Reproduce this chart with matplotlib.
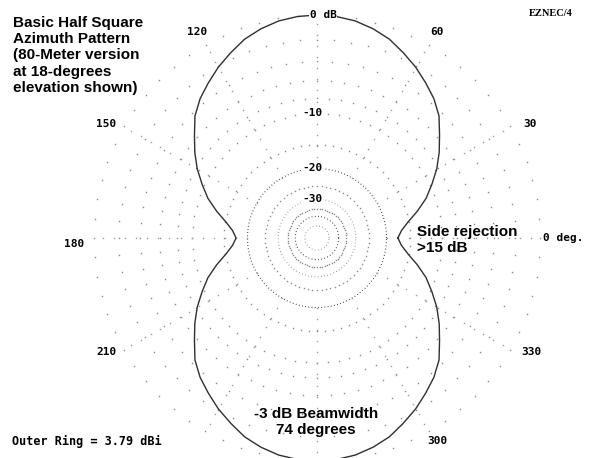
import matplotlib.pyplot as plt
import numpy as np

# azimuth pattern, first quadrant (degrees from "0 deg." towards 90), dB below outer ring
az_q = [0, 5, 10, 15, 20, 25, 30, 35, 40, 45, 50, 55, 60, 65, 70, 75, 80, 85, 90]
gain_q = [-17.4, -16.6, -15.1, -13.1, -11.2, -9.7, -8.2, -6.9, -5.7, -4.4,
          -3.5, -2.8, -2.1, -1.5, -0.9, -0.5, -0.2, -0.05, 0.0]

# grid rings (dB)
rings_sparse = [0, -2, -4, -6, -8, -10, -15, -25, -35]
rings_dense = [(-20, '#202020'), (-30, '#8a8a8a'), (-40, '#202020'), (-50, '#8a8a8a')]
ring_labels = [(0, '0 dB', 6), (-10, '-10', -5), (-20, '-20', -5), (-30, '-30', -5)]

# angle labels: text, angle (deg), radius (outer ring = 1)
ang_labels = [('120', 120.2, 1.07), ('60', 59.8, 1.07), ('150', 151.5, 1.075),
              ('30', 28.2, 1.085), ('180', 181.4, 1.09), ('210', 208.5, 1.075),
              ('330', 332.0, 1.09), ('300', 300.6, 1.06)]


def arrl(db):
    # ARRL log scale: each 2 dB is 0.89 of radius
    return 0.89 ** (-np.asarray(db, dtype=float) / 2)


# full pattern from the symmetric quadrant
az_q = np.array(az_q, dtype=float)
gain_q = np.array(gain_q)
az = np.concatenate([az_q, 180 - az_q[::-1], 180 + az_q, 360 - az_q[::-1]])
gain = np.concatenate([gain_q, gain_q[::-1], gain_q, gain_q[::-1]])

fig = plt.figure(figsize=(5.91, 4.58), dpi=100)
W, H = 591, 458
cx, cy, R = 317, 238, 223
ax = fig.add_axes([(cx - R) / W, (H - cy - R) / H, 2 * R / W, 2 * R / H],
                  projection='polar')
ax.set_ylim(0, 1)
ax.axis('off')

# sparse dotted rings
dots = np.deg2rad(np.arange(0, 360, 5))
for db in rings_sparse:
    ax.plot(dots, np.full(dots.shape, arrl(db)), ls='none', marker='s',
            ms=1.0, mew=0, color='#8a8a8a', clip_on=False)

# dense dotted rings
tt = np.linspace(0, 2 * np.pi, 721)
for db, c in rings_dense:
    ax.plot(tt, np.full(tt.shape, arrl(db)), ls=(0, (0.7, 2.2)), lw=0.8,
            color=c, clip_on=False)

# spokes every 30 degrees
rr = np.arange(arrl(-20), 1.0, 0.05)
for a in range(0, 360, 30):
    ax.plot(np.full(rr.shape, np.deg2rad(a)), rr, ls='none', marker='s',
            ms=1.0, mew=0, color='#9a9a9a', clip_on=False)

# pattern
ax.plot(np.deg2rad(az), arrl(gain), color='#303030', lw=1.0, clip_on=False, zorder=3)

mono = 'DejaVu Sans Mono'
for db, txt, dx in ring_labels:
    ax.annotate(txt, xy=(np.pi / 2, arrl(db)), xytext=(dx, 0),
                textcoords='offset pixels', ha='center', va='center',
                fontsize=8, family=mono, weight='bold', zorder=5,
                bbox=dict(boxstyle='square,pad=0.05', fc='white', ec='none'))

for txt, a, r in ang_labels:
    ax.text(np.deg2rad(a), r, txt, ha='center', va='center', fontsize=8,
            family=mono, weight='bold')
ax.text(0, 1.013, '0 deg.', ha='left', va='center', fontsize=8,
        family=mono, weight='bold')

sans = 'Liberation Sans'
fig.text(13 / W, 1 - 16 / H,
         'Basic Half Square\nAzimuth Pattern\n(80-Meter version\nat 18-degrees\nelevation shown)',
         ha='left', va='top', fontsize=11, family=sans, weight='bold', linespacing=1.2)
fig.text(417 / W, 1 - 240 / H, 'Side rejection\n>15 dB', ha='left', va='center',
         fontsize=11, family=sans, weight='bold', linespacing=1.2)
fig.text(316 / W, 1 - 422 / H, '-3 dB Beamwidth\n74 degrees', ha='center', va='center',
         fontsize=11, family=sans, weight='bold', linespacing=1.2)
fig.text(12 / W, 1 - 441 / H, 'Outer Ring = 3.79 dBi', ha='left', va='center',
         fontsize=8.5, family=mono, weight='bold')
fig.text(551 / W, 1 - 14 / H, 'EZNEC/4', ha='center', va='center',
         fontsize=7.5, family='Liberation Serif', weight='bold')

fig.savefig('out.png', dpi=100)
